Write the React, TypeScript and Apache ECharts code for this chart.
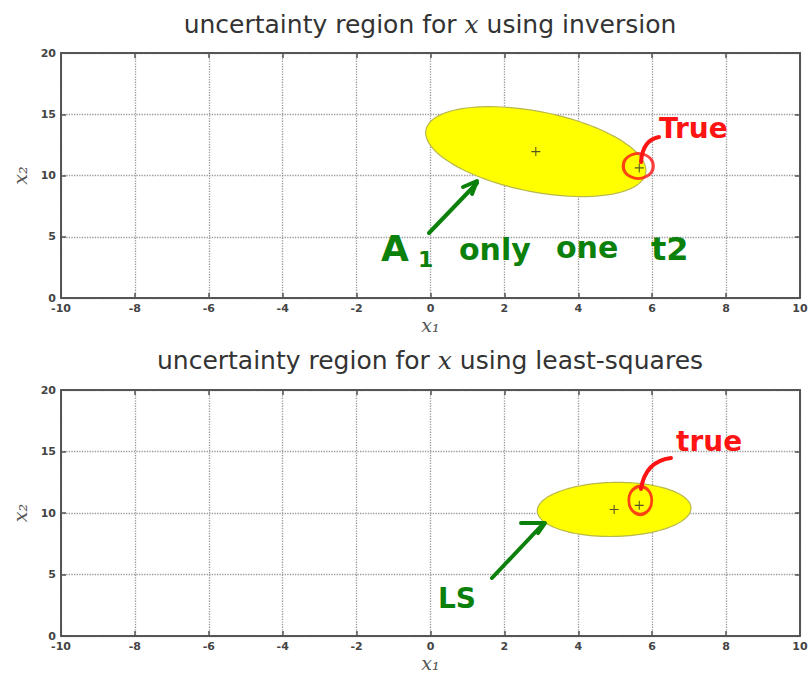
import React, { useEffect, useRef } from "react";
import * as echarts from "echarts";

// ---- data ----
const X_MIN = -10;
const X_MAX = 10;
const X_STEP = 2;
const Y_MIN = 0;
const Y_MAX = 20;
const Y_STEP = 5;

const TITLE_METHODS = ["inversion", "least-squares"];
const X_NAME = "x\u2081";
const Y_NAME = "x\u2082";

// true value of x (same in both panels)
const TRUE_X = [5.65, 10.62];

// uncertainty ellipse (inversion): center, half-extent along x1 and x2, correlation
const INV_CENTER = [2.85, 11.95];
const INV_SPREAD = [2.98, 3.67];
const INV_RHO = -0.42;

// uncertainty ellipse (least-squares)
const LS_CENTER = [4.97, 10.29];
const LS_SPREAD = [2.08, 2.2];
const LS_RHO = 0.05;

const GREEN = "#0b800b";
const RED = "#ff1414";
const AXIS_COLOR = "#555";
const LABEL_FONT = "DejaVu Sans";

function ellipseSeries(gridIdx: number, center: number[], spread: number[], rho: number) {
  return {
    type: "custom",
    xAxisIndex: gridIdx * 2,
    yAxisIndex: gridIdx * 2,
    clip: true,
    z: 2,
    data: [[center[0], center[1]]],
    renderItem: (params: any, api: any) => {
      const pts: number[][] = [];
      const n = 120;
      const k = Math.sqrt(1 - rho * rho);
      for (let i = 0; i < n; i++) {
        const t = (i / n) * Math.PI * 2;
        const x = center[0] + spread[0] * Math.cos(t);
        const y = center[1] + spread[1] * (rho * Math.cos(t) + k * Math.sin(t));
        pts.push(api.coord([x, y]));
      }
      return {
        type: "polygon",
        shape: { points: pts },
        style: { fill: "#ffff00", stroke: "#b9b84e", lineWidth: 1.2 },
      };
    },
  };
}

function markerSeries(gridIdx: number, center: number[]) {
  return [
    {
      type: "scatter",
      xAxisIndex: gridIdx * 2,
      yAxisIndex: gridIdx * 2,
      z: 4,
      symbol: "path://M0,4.4h10v1.2h-10z M4.4,0h1.2v10h-1.2z",
      symbolSize: 9,
      itemStyle: { color: "#2a2a2a" },
      silent: true,
      data: [center, TRUE_X],
    },
    {
      type: "scatter",
      xAxisIndex: gridIdx * 2,
      yAxisIndex: gridIdx * 2,
      z: 5,
      symbol: "circle",
      symbolSize: gridIdx === 0 ? [30, 25] : [23, 28],
      symbolOffset: gridIdx === 0 ? [-1, -2] : [1, -5],
      itemStyle: { color: "rgba(0,0,0,0)", borderColor: RED, borderWidth: 3 },
      silent: true,
      data: [TRUE_X],
    },
  ];
}

function axesFor(gridIdx: number) {
  const lineStyle = { color: AXIS_COLOR, width: 2 };
  const tick = { show: true, inside: true, length: 5, lineStyle: { color: AXIS_COLOR, width: 1.5 } };
  const labelStyle = {
    color: "#444",
    fontSize: 11,
    fontWeight: "bold" as const,
    fontFamily: LABEL_FONT,
  };
  const split = { show: true, lineStyle: { type: "dotted" as const, color: "#999", width: 1.3 } };
  const nameStyle = {
    fontFamily: "DejaVu Serif",
    fontStyle: "italic" as const,
    fontSize: 19,
    color: "#555",
    lineHeight: 18,
  };
  const x = [
    {
      gridIndex: gridIdx,
      type: "value",
      min: X_MIN,
      max: X_MAX,
      interval: X_STEP,
      position: "bottom",
      axisLine: { show: true, onZero: false, lineStyle },
      axisTick: tick,
      axisLabel: { ...labelStyle, margin: 5 },
      splitLine: split,
      name: X_NAME,
      nameLocation: "middle",
      nameGap: 18,
      nameMoveOverlap: false,
      nameTextStyle: nameStyle,
    },
    {
      gridIndex: gridIdx,
      type: "value",
      min: X_MIN,
      max: X_MAX,
      interval: X_STEP,
      position: "top",
      axisLine: { show: true, onZero: false, lineStyle },
      axisTick: tick,
      axisLabel: { show: false },
      splitLine: { show: false },
    },
  ];
  const y = [
    {
      gridIndex: gridIdx,
      type: "value",
      min: Y_MIN,
      max: Y_MAX,
      interval: Y_STEP,
      position: "left",
      axisLine: { show: true, onZero: false, lineStyle },
      axisTick: tick,
      axisLabel: { ...labelStyle, margin: 5 },
      splitLine: split,
      name: Y_NAME,
      nameLocation: "middle",
      nameRotate: 90,
      nameGap: 32,
      nameMoveOverlap: false,
      nameTextStyle: nameStyle,
    },
    {
      gridIndex: gridIdx,
      type: "value",
      min: Y_MIN,
      max: Y_MAX,
      interval: Y_STEP,
      position: "right",
      axisLine: { show: true, onZero: false, lineStyle },
      axisTick: tick,
      axisLabel: { show: false },
      splitLine: { show: false },
    },
  ];
  return { x, y };
}

function titleText(y: number, method: string) {
  return {
    type: "text",
    x: 430,
    y,
    z: 10,
    style: {
      text: `{a|uncertainty region for }{i|x}{a| using ${method}}`,
      align: "center",
      verticalAlign: "middle",
      rich: {
        a: { fontFamily: "DejaVu Sans", fontSize: 25, fill: "#333" },
        i: { fontFamily: "DejaVu Serif", fontStyle: "italic", fontSize: 25, fill: "#333" },
      },
    },
  };
}

function hand(text: string, x: number, y: number, size: number, color: string) {
  return {
    type: "text",
    x,
    y,
    z: 20,
    style: {
      text,
      fill: color,
      fontFamily: "DejaVu Sans",
      fontWeight: "bold",
      fontSize: size,
      align: "left",
      verticalAlign: "bottom",
    },
  };
}

function stroke(points: number[][], color: string, w = 4) {
  return {
    type: "polyline",
    z: 20,
    shape: { points },
    style: { stroke: color, lineWidth: w, lineCap: "round", lineJoin: "round", fill: "none" },
  };
}

function curve(x1: number, y1: number, cx1: number, cy1: number, cx2: number, cy2: number, x2: number, y2: number, color: string) {
  return {
    type: "bezierCurve",
    z: 20,
    shape: { x1, y1, cpx1: cx1, cpy1: cy1, cpx2: cx2, cpy2: cy2, x2, y2 },
    style: { stroke: color, lineWidth: 4, lineCap: "round", fill: "none" },
  };
}

export default function App() {
  const ref = useRef<HTMLDivElement>(null);
  useEffect(() => {
    document.body.style.margin = "0";
    if (!ref.current) return;
    const chart = echarts.init(ref.current, undefined, { renderer: "svg" });
    const a0 = axesFor(0);
    const a1 = axesFor(1);
    chart.setOption({
      animation: false,
      backgroundColor: "#fff",
      grid: [
        { left: 61, width: 739, top: 53, height: 245, outerBoundsMode: "none", containLabel: false },
        { left: 61, width: 739, top: 390, height: 246, outerBoundsMode: "none", containLabel: false },
      ],
      xAxis: [...a0.x, ...a1.x],
      yAxis: [...a0.y, ...a1.y],
      series: [
        ellipseSeries(0, INV_CENTER, INV_SPREAD, INV_RHO),
        ...markerSeries(0, INV_CENTER),
        ellipseSeries(1, LS_CENTER, LS_SPREAD, LS_RHO),
        ...markerSeries(1, LS_CENTER),
      ],
      graphic: [
        titleText(24, TITLE_METHODS[0]),
        titleText(360, TITLE_METHODS[1]),
        // top panel annotations
        stroke([[429, 233], [477, 183]], GREEN),
        stroke([[463, 187], [477, 181], [472, 194]], GREEN),
        hand("A", 381, 266, 36, GREEN),
        hand("1", 418, 270, 22, GREEN),
        hand("only", 459, 264, 30, GREEN),
        hand("one", 556, 262, 30, GREEN),
        hand("t2", 651, 265, 32, GREEN),
        curve(641, 162, 642, 148, 648, 139, 659, 137, RED),
        hand("True", 659, 142, 28, RED),
        // bottom panel annotations
        stroke([[492, 578], [543, 524]], GREEN),
        stroke([[521, 523], [545, 523], [538, 533]], GREEN),
        hand("LS", 438, 612, 28, GREEN),
        curve(641, 489, 644, 470, 655, 460, 671, 458, RED),
        hand("true", 676, 455, 28, RED),
      ],
    });
    return () => chart.dispose();
  }, []);
  return <div ref={ref} style={{ width: 812, height: 673 }} />;
}
